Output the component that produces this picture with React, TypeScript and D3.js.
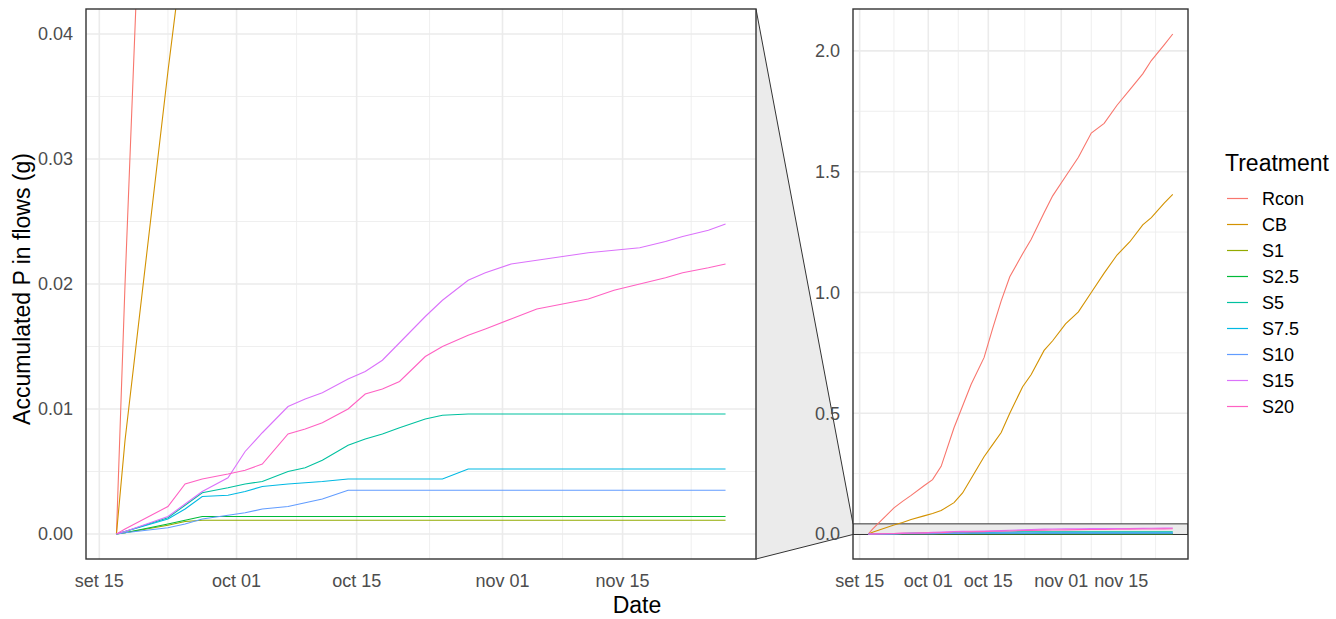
import React, { useEffect, useRef } from "react";
import * as d3 from "d3";

// sampling dates (shared by every treatment)
const dates = [
  "2021-09-17", "2021-09-18", "2021-09-23", "2021-09-25", "2021-09-27", "2021-09-30",
  "2021-10-02", "2021-10-04", "2021-10-07", "2021-10-09", "2021-10-11", "2021-10-14",
  "2021-10-16", "2021-10-18", "2021-10-20", "2021-10-23", "2021-10-25", "2021-10-28",
  "2021-10-30", "2021-11-02", "2021-11-05", "2021-11-08", "2021-11-11", "2021-11-14",
  "2021-11-17", "2021-11-20", "2021-11-22", "2021-11-25", "2021-11-27",
];

const rcon = [0, 0.02, 0.108, 0.135, 0.16, 0.2, 0.225, 0.28, 0.44, 0.53, 0.62, 0.73, 0.85, 0.965, 1.065,
  1.16, 1.22, 1.33, 1.4, 1.48, 1.56, 1.66, 1.7, 1.775, 1.84, 1.905, 1.96, 2.025, 2.07];
const cb = [0, 0.0075, 0.037, 0.048, 0.06, 0.075, 0.085, 0.097, 0.13, 0.17, 0.23, 0.32, 0.37, 0.42, 0.5,
  0.61, 0.66, 0.76, 0.8, 0.87, 0.92, 1.0, 1.08, 1.155, 1.21, 1.28, 1.31, 1.37, 1.406];
const s1 = [0, 0.0001, 0.0007, 0.001, 0.0011, 0.0011, 0.0011, 0.0011, 0.0011, 0.0011, 0.0011, 0.0011,
  0.0011, 0.0011, 0.0011, 0.0011, 0.0011, 0.0011, 0.0011, 0.0011, 0.0011, 0.0011, 0.0011, 0.0011,
  0.0011, 0.0011, 0.0011, 0.0011, 0.0011];
const s2_5 = [0, 0.0001, 0.0008, 0.0011, 0.0014, 0.0014, 0.0014, 0.0014, 0.0014, 0.0014, 0.0014, 0.0014,
  0.0014, 0.0014, 0.0014, 0.0014, 0.0014, 0.0014, 0.0014, 0.0014, 0.0014, 0.0014, 0.0014, 0.0014,
  0.0014, 0.0014, 0.0014, 0.0014, 0.0014];
const s5 = [0, 0.0002, 0.0013, 0.0023, 0.0033, 0.0037, 0.004, 0.0042, 0.005, 0.0053, 0.0059, 0.0071,
  0.0076, 0.008, 0.0085, 0.0092, 0.0095, 0.0096, 0.0096, 0.0096, 0.0096, 0.0096, 0.0096, 0.0096,
  0.0096, 0.0096, 0.0096, 0.0096, 0.0096];
const s7_5 = [0, 0.0002, 0.0012, 0.002, 0.003, 0.0031, 0.0034, 0.0038, 0.004, 0.0041, 0.0042, 0.0044,
  0.0044, 0.0044, 0.0044, 0.0044, 0.0044, 0.0052, 0.0052, 0.0052, 0.0052, 0.0052, 0.0052, 0.0052,
  0.0052, 0.0052, 0.0052, 0.0052, 0.0052];
const s10 = [0, 0.0001, 0.0005, 0.0008, 0.0012, 0.0015, 0.0017, 0.002, 0.0022, 0.0025, 0.0028, 0.0035,
  0.0035, 0.0035, 0.0035, 0.0035, 0.0035, 0.0035, 0.0035, 0.0035, 0.0035, 0.0035, 0.0035, 0.0035,
  0.0035, 0.0035, 0.0035, 0.0035, 0.0035];
const s15 = [0, 0.0002, 0.0014, 0.0024, 0.0034, 0.0045, 0.0066, 0.0081, 0.0102, 0.0108, 0.0113, 0.0124,
  0.013, 0.0139, 0.0153, 0.0174, 0.0187, 0.0203, 0.0209, 0.0216, 0.0219, 0.0222, 0.0225, 0.0227,
  0.0229, 0.0234, 0.0238, 0.0243, 0.0248];
const s20 = [0, 0.0004, 0.0022, 0.004, 0.0044, 0.0048, 0.0051, 0.0056, 0.008, 0.0084, 0.0089, 0.01,
  0.0112, 0.0116, 0.0122, 0.0142, 0.015, 0.0159, 0.0164, 0.0172, 0.018, 0.0184, 0.0188, 0.0195,
  0.02, 0.0205, 0.0209, 0.0213, 0.0216];

const treatments = ["Rcon", "CB", "S1", "S2.5", "S5", "S7.5", "S10", "S15", "S20"];
const seriesValues = [rcon, cb, s1, s2_5, s5, s7_5, s10, s15, s20];
const colors = ["#F8766D", "#D39200", "#93AA00", "#00BA38", "#00C19F", "#00B9E3", "#619CFF", "#DB72FB", "#FF61C3"];

const xTickDates = ["2021-09-15", "2021-10-01", "2021-10-15", "2021-11-01", "2021-11-15"];
const xTickLabels = ["set 15", "oct 01", "oct 15", "nov 01", "nov 15"];
const zoomLimits = [0, 0.04];
const leftYTicks = [0, 0.01, 0.02, 0.03, 0.04];
const rightYTicks = [0, 0.5, 1.0, 1.5, 2.0];

const W = 1336;
const H = 619;
const FONT = "'Liberation Sans', Arial, sans-serif";

export default function App() {
  const ref = useRef<SVGSVGElement>(null);

  useEffect(() => {
    const svg = d3.select(ref.current);
    svg.selectAll("*").remove();

    const parse = d3.timeParse("%Y-%m-%d");
    const xs = dates.map((d) => parse(d) as Date);
    const ext = d3.extent(xs) as [Date, Date];
    const span = ext[1].getTime() - ext[0].getTime();
    const xDomain = [new Date(ext[0].getTime() - 0.05 * span), new Date(ext[1].getTime() + 0.05 * span)];

    const majors = xTickDates.map((d) => parse(d) as Date);
    const ext2 = [parse("2021-09-01") as Date, ...majors, parse("2021-12-01") as Date];
    const minors: Date[] = [];
    for (let i = 0; i < ext2.length - 1; i++) {
      minors.push(new Date((ext2[i].getTime() + ext2[i + 1].getTime()) / 2));
    }

    const allMax = d3.max(seriesValues.flat()) as number;
    const zr = zoomLimits[1] - zoomLimits[0];
    const leftYDomain = [zoomLimits[0] - 0.05 * zr, zoomLimits[1] + 0.05 * zr];
    const rightYDomain = [0 - 0.05 * allMax, allMax * 1.05];

    const top = 9, bottom = 559;
    const panels = [
      { id: "L", x0: 86, x1: 756, yDomain: leftYDomain, yTicks: leftYTicks, fmt: d3.format(".2f"), step: 0.01 },
      { id: "R", x0: 853, x1: 1188, yDomain: rightYDomain, yTicks: rightYTicks, fmt: d3.format(".1f"), step: 0.5 },
    ];

    // zoom connector goes first so the right panel's tick labels sit on top of it
    const L = panels[0], R = panels[1];
    const yR = d3.scaleLinear().domain(rightYDomain).range([bottom, top]);
    const poly = [
      [L.x1, top], [R.x0, yR(leftYDomain[1])], [R.x0, yR(leftYDomain[0])], [L.x1, bottom],
    ];
    svg.append("polygon").attr("points", poly.map((p) => p.join(",")).join(" "))
      .attr("fill", "#ebebeb");
    svg.append("line").attr("x1", poly[0][0]).attr("y1", poly[0][1]).attr("x2", poly[1][0]).attr("y2", poly[1][1])
      .attr("stroke", "#333").attr("stroke-width", 1);
    svg.append("line").attr("x1", poly[3][0]).attr("y1", poly[3][1]).attr("x2", poly[2][0]).attr("y2", poly[2][1])
      .attr("stroke", "#333").attr("stroke-width", 1);

    panels.forEach((p) => {
      const x = d3.scaleTime().domain(xDomain).range([p.x0, p.x1]);
      const y = d3.scaleLinear().domain(p.yDomain).range([bottom, top]);

      const g = svg.append("g");
      g.append("clipPath").attr("id", "clip" + p.id)
        .append("rect").attr("x", p.x0).attr("y", top).attr("width", p.x1 - p.x0).attr("height", bottom - top);

      g.append("rect").attr("x", p.x0).attr("y", top).attr("width", p.x1 - p.x0).attr("height", bottom - top)
        .attr("fill", "white");

      const grid = g.append("g").attr("clip-path", `url(#clip${p.id})`);
      const yMinor = p.yTicks.slice(0, -1).map((t) => t + p.step / 2);
      grid.selectAll(".ymin").data(yMinor).enter().append("line")
        .attr("x1", p.x0).attr("x2", p.x1).attr("y1", (d) => y(d)).attr("y2", (d) => y(d))
        .attr("stroke", "#ebebeb").attr("stroke-width", 0.8);
      grid.selectAll(".xmin").data(minors).enter().append("line")
        .attr("x1", (d) => x(d)).attr("x2", (d) => x(d)).attr("y1", top).attr("y2", bottom)
        .attr("stroke", "#ebebeb").attr("stroke-width", 0.8);
      grid.selectAll(".ymaj").data(p.yTicks).enter().append("line")
        .attr("x1", p.x0).attr("x2", p.x1).attr("y1", (d) => y(d)).attr("y2", (d) => y(d))
        .attr("stroke", "#ebebeb").attr("stroke-width", 1.6);
      grid.selectAll(".xmaj").data(majors).enter().append("line")
        .attr("x1", (d) => x(d)).attr("x2", (d) => x(d)).attr("y1", top).attr("y2", bottom)
        .attr("stroke", "#ebebeb").attr("stroke-width", 1.6);

      if (p.id === "R") {
        grid.append("rect")
          .attr("x", p.x0).attr("width", p.x1 - p.x0)
          .attr("y", y(leftYDomain[1])).attr("height", y(leftYDomain[0]) - y(leftYDomain[1]))
          .attr("fill", "#ebebeb").attr("stroke", "#333").attr("stroke-width", 1);
      }

      const line = d3.line<number>()
        .x((_, i) => x(xs[i]))
        .y((d) => y(d));
      const lines = g.append("g").attr("clip-path", `url(#clip${p.id})`);
      seriesValues.forEach((vals, i) => {
        lines.append("path").attr("d", line(vals) as string)
          .attr("fill", "none").attr("stroke", colors[i]).attr("stroke-width", 1.1);
      });

      g.append("rect").attr("x", p.x0).attr("y", top).attr("width", p.x1 - p.x0).attr("height", bottom - top)
        .attr("fill", "none").attr("stroke", "#333").attr("stroke-width", 1.4);

      // y tick labels
      g.selectAll(".yt").data(p.yTicks).enter().append("text")
        .attr("x", p.x0 - 13).attr("y", (d) => y(d)).attr("dy", "0.35em")
        .attr("text-anchor", "end").attr("font-family", FONT).attr("font-size", 18).attr("fill", "#4d4d4d")
        .text((d) => p.fmt(d));
      // x tick labels
      g.selectAll(".xt").data(majors).enter().append("text")
        .attr("x", (d) => x(d)).attr("y", 587)
        .attr("text-anchor", "middle").attr("font-family", FONT).attr("font-size", 18).attr("fill", "#4d4d4d")
        .text((_, i) => xTickLabels[i]);
    });

    // axis titles
    svg.append("text").attr("x", 637).attr("y", 613).attr("text-anchor", "middle")
      .attr("font-family", FONT).attr("font-size", 23).attr("fill", "black").text("Date");
    svg.append("text").attr("transform", "translate(30,289) rotate(-90)").attr("text-anchor", "middle")
      .attr("font-family", FONT).attr("font-size", 23).attr("fill", "black").text("Accumulated P in flows (g)");

    // legend
    const leg = svg.append("g");
    leg.append("text").attr("x", 1225).attr("y", 171).attr("font-family", FONT).attr("font-size", 23)
      .attr("fill", "black").text("Treatment");
    treatments.forEach((t, i) => {
      const cy = 198.5 + i * 26;
      leg.append("line").attr("x1", 1227).attr("x2", 1248).attr("y1", cy).attr("y2", cy)
        .attr("stroke", colors[i]).attr("stroke-width", 1.2);
      leg.append("text").attr("x", 1262).attr("y", cy).attr("dy", "0.35em")
        .attr("font-family", FONT).attr("font-size", 18).attr("fill", "black").text(t);
    });
  }, []);

  return (
    <svg ref={ref} width={W} height={H} style={{ position: "absolute", left: 0, top: 0, background: "white" }} />
  );
}
